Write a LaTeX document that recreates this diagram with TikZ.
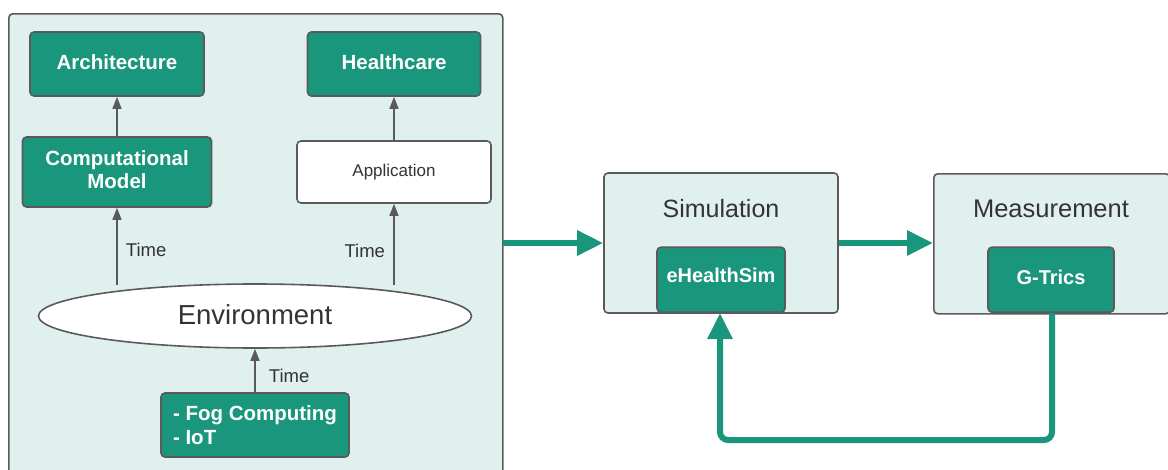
\documentclass[tikz,border=0pt]{standalone}
\usepackage{fontspec}
\setmainfont{Liberation Sans}
\usetikzlibrary{arrows.meta,shapes.geometric}
\definecolor{teal}{HTML}{1A967C}
\definecolor{pale}{HTML}{DFF0EE}
\definecolor{edge}{HTML}{5A5A5A}
\definecolor{ink}{HTML}{333333}
\tikzset{
  panel/.style={draw=edge,line width=1.6pt,fill=pale,rounded corners=4pt},
  tealbox/.style={draw=edge,line width=1.6pt,fill=teal,rounded corners=4pt,
    text=white,font=\bfseries\fontsize{20.5}{24}\selectfont,align=center,inner sep=0pt},
  whitebox/.style={draw=edge,line width=1.6pt,fill=white,rounded corners=4pt,
    text=ink,font=\fontsize{17}{20}\selectfont,inner sep=0pt},
  thin/.style={draw=edge,line width=1.3pt,-{Triangle[length=12pt,width=9pt]}},
  bold/.style={draw=teal,line width=6pt,-{Triangle[length=26pt,width=24pt]}},
  lbl/.style={text=ink,font=\fontsize{18.5}{22}\selectfont},
}
\begin{document}
\begin{tikzpicture}[x=1pt,y=-1pt]
\useasboundingbox (0,0) rectangle (1168,469);
\clip (0,0) rectangle (1168,469);
% left panel, running past the lower edge
\node[panel,minimum width=494pt,minimum height=480pt,anchor=north west] (outer) at (8,13) {};
% nodes of the model
\node[tealbox,minimum width=174pt,minimum height=64pt] (arch) at (117,64) {\raisebox{3pt}{Architecture}};
\node[tealbox,minimum width=173pt,minimum height=64pt] (health) at (394,64) {\raisebox{3pt}{Healthcare}};
\node[tealbox,minimum width=189pt,minimum height=70pt] (comp) at (117,172) {\raisebox{2pt}{\begin{tabular}{@{}c@{}}Computational\\[-1pt]Model\end{tabular}}};
\node[whitebox,minimum width=194pt,minimum height=62pt] (app) at (394,172) {\raisebox{1pt}{Application}};
\node[ellipse,draw=edge,line width=1.6pt,fill=white,minimum width=433pt,minimum height=64pt,
  inner sep=0pt,text=ink,font=\fontsize{27.5}{32}\selectfont] (env) at (255,316) {\raisebox{3pt}{Environment}};
\node[tealbox,minimum width=188pt,minimum height=64pt,align=left] (fog) at (255,425)
  {- Fog Computing\\- IoT};
% connectors inside the panel
\draw[thin] (comp.north) -- (arch.south);
\draw[thin] (app.north) -- (health.south);
\coordinate (envL) at (117,285);
\coordinate (envR) at (394,285);
\draw[thin] (envL) -- (comp.south) node[lbl,pos=0.45,right=5pt] {Time};
\draw[thin] (envR) -- (app.south) node[lbl,pos=0.42,left=5pt] {Time};
\draw[thin] (fog.north) -- (env.south) node[lbl,pos=0.38,right=10pt] {Time};
% simulation and measurement
\node[panel,minimum width=234pt,minimum height=140pt] (sim) at (721,243) {};
\node[text=ink,font=\fontsize{25}{29}\selectfont] (simt) at (721,209) {Simulation};
\node[tealbox,minimum width=128pt,minimum height=65pt,anchor=south,font=\bfseries\fontsize{20}{24}\selectfont] (ehs) at (721,313) {\raisebox{8pt}{eHealthSim}};
\node[panel,minimum width=236pt,minimum height=140pt,anchor=north west] (meas) at (933,173) {};
\node[text=ink,font=\fontsize{25.5}{30}\selectfont] (meast) at (1051,209) {Measurement};
\node[tealbox,minimum width=126pt,minimum height=65pt,anchor=south,font=\bfseries\fontsize{20}{24}\selectfont] (gt) at (1051,313) {\raisebox{4pt}{G-Trics}};
% flow between stages
\coordinate (outR) at (503,243);
\draw[bold] (outR) -- (sim.west);
\draw[bold] (sim.east) -- (meas.west |- sim.east);
\coordinate (loopR) at (1052,440);
\coordinate (loopL) at (720,440);
\draw[bold,rounded corners=8pt] (gt.south -| loopR) -- (loopR) -- (loopL) -- (ehs.south -| loopL);
\end{tikzpicture}
\end{document}
